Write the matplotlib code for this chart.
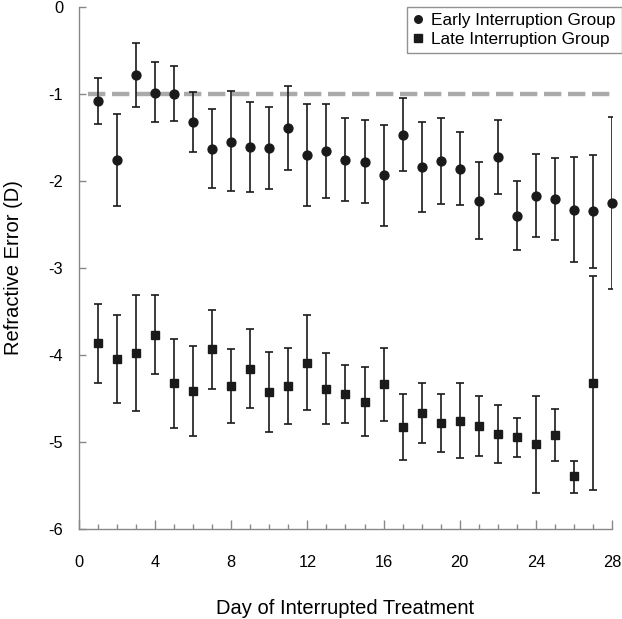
import numpy as np
import matplotlib.pyplot as plt
from matplotlib.ticker import MultipleLocator

plt.rcParams['font.family'] = ['Liberation Sans', 'DejaVu Sans']
plt.rcParams['axes.unicode_minus'] = False

# early interruption group (circles)
early_days = np.arange(1, 29)
early_mean = [-1.08, -1.76, -0.78, -0.99, -1.00, -1.33, -1.64, -1.55, -1.61, -1.62,
              -1.40, -1.71, -1.66, -1.76, -1.78, -1.94, -1.47, -1.84, -1.77, -1.86,
              -2.23, -1.73, -2.41, -2.18, -2.21, -2.34, -2.35, -2.26]
early_top = [-0.82, -1.23, -0.42, -0.64, -0.68, -0.98, -1.18, -0.97, -1.09, -1.15,
             -0.91, -1.12, -1.12, -1.28, -1.30, -1.36, -1.05, -1.32, -1.28, -1.44,
             -1.78, -1.30, -2.00, -1.69, -1.74, -1.73, -1.70, -1.27]
early_bottom = [-1.35, -2.29, -1.15, -1.33, -1.31, -1.67, -2.08, -2.12, -2.13, -2.10,
                -1.88, -2.29, -2.20, -2.23, -2.26, -2.52, -1.89, -2.36, -2.27, -2.28,
                -2.67, -2.15, -2.80, -2.65, -2.68, -2.94, -3.00, -3.24]

# late interruption group (squares)
late_days = np.arange(1, 28)
late_mean = [-3.87, -4.05, -3.98, -3.77, -4.33, -4.42, -3.94, -4.36, -4.16, -4.43,
             -4.36, -4.09, -4.39, -4.45, -4.54, -4.34, -4.83, -4.67, -4.78, -4.76,
             -4.82, -4.91, -4.95, -5.03, -4.92, -5.40, -4.32]
late_top = [-3.42, -3.54, -3.31, -3.31, -3.82, -3.90, -3.49, -3.93, -3.71, -3.97,
            -3.92, -3.54, -3.98, -4.12, -4.14, -3.92, -4.45, -4.32, -4.45, -4.33,
            -4.47, -4.58, -4.73, -4.47, -4.62, -5.22, -3.09]
late_bottom = [-4.33, -4.55, -4.65, -4.22, -4.84, -4.94, -4.40, -4.79, -4.61, -4.89,
               -4.80, -4.64, -4.80, -4.79, -4.94, -4.76, -5.21, -5.02, -5.12, -5.19,
               -5.17, -5.25, -5.18, -5.59, -5.22, -5.59, -5.55]

reference_level = -1.0

fig = plt.figure(figsize=(6.22, 6.19), dpi=100)
ax = fig.add_axes([0.1270, 0.1459, 0.8569, 0.8433])

ax.plot([0.47, 28.15], [reference_level, reference_level], color="#aaaaaa",
        lw=3.2, dashes=(3.9, 1.5), clip_on=False, zorder=1)

def draw_group(days, mean, top, bottom, marker, label):
    mean = np.array(mean)
    err = [mean - np.array(bottom), np.array(top) - mean]
    ax.errorbar(days, mean, yerr=err, fmt="none", ecolor="#1a1a1a",
                elinewidth=1.2, capsize=2.8, capthick=1.2, zorder=2)
    ax.plot(days, mean, marker, color="#1a1a1a", ms=6.4, ls="none",
            clip_on=False, zorder=3, label=label)

draw_group(early_days, early_mean, early_top, early_bottom, "o", "Early Interruption Group")
draw_group(late_days, late_mean, late_top, late_bottom, "s", "Late Interruption Group")

ax.set_xlim(0, 28)
ax.set_ylim(-6, 0)
ax.xaxis.set_major_locator(MultipleLocator(4))
ax.xaxis.set_minor_locator(MultipleLocator(1))
ax.yaxis.set_major_locator(MultipleLocator(1))

for side in ["top", "right"]:
    ax.spines[side].set_visible(False)
for side in ["left", "bottom"]:
    ax.spines[side].set_color("#888888")
    ax.spines[side].set_linewidth(1.0)

ax.tick_params(axis="x", which="major", direction="in", length=6.5, width=1,
               color="#888888", pad=19, labelsize=11.8)
ax.tick_params(axis="x", which="minor", direction="in", length=3.6, width=1,
               color="#888888")
ax.tick_params(axis="y", which="major", direction="in", length=5, width=1,
               color="#888888", pad=11.5, labelsize=11.8)

ax.set_xlabel("Day of Interrupted Treatment", fontsize=14.5, va="center")
ax.xaxis.set_label_coords(0.5, (528.7 - 609) / 522)
ax.set_ylabel("Refractive Error (D)", fontsize=14.5, va="center")
ax.yaxis.set_label_coords((14 - 79) / 533, 0.5)

leg = ax.legend(loc="upper right", bbox_to_anchor=(1.0, 1 - 7 / 619),
                bbox_transform=fig.transFigure, fontsize=12.4, frameon=True,
                fancybox=False, edgecolor="#777777", handlelength=0.6,
                handletextpad=0.5, labelspacing=0.22, borderpad=0.35,
                borderaxespad=0, markerscale=0.85)
leg.get_frame().set_linewidth(1.0)

fig.savefig("out.png", dpi=100)
